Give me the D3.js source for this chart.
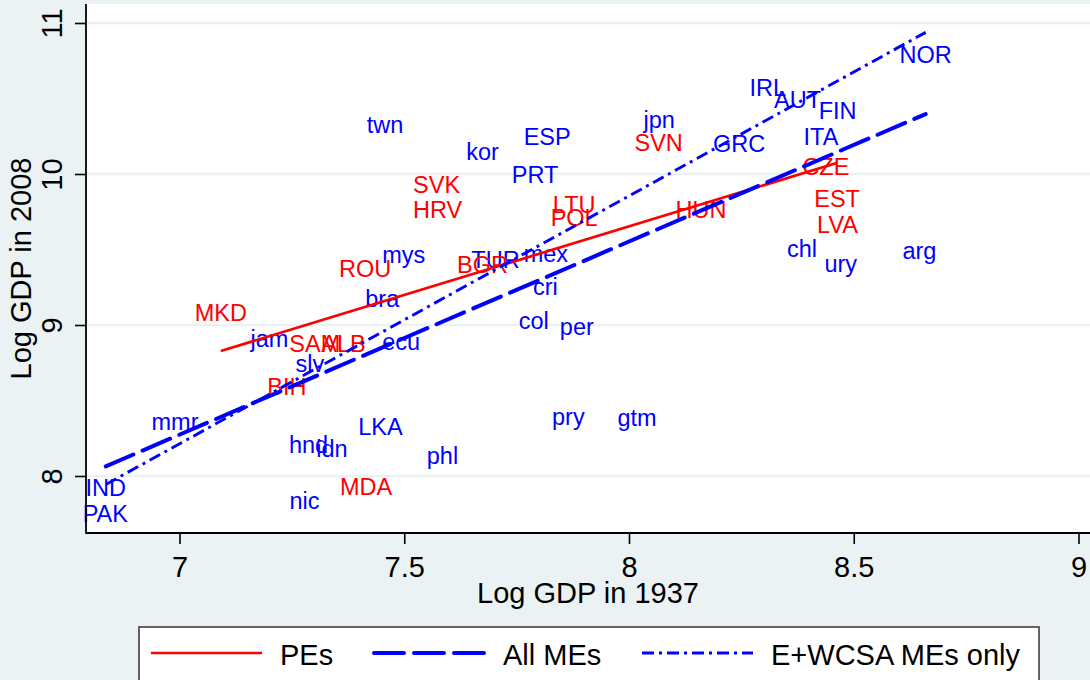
<!DOCTYPE html>
<html><head><meta charset="utf-8">
<script src="https://cdn.jsdelivr.net/npm/d3@7"></script>
<style>
body{margin:0;background:#eaf2f3;}
svg{display:block;font-family:"Liberation Sans",Arial,Helvetica,sans-serif;}
</style>
</head><body>
<svg id="chart" width="1090" height="680"></svg>
<script>
// ---------- data ----------
const peNames = ["MKD","ROU","SAM","ALB","BIH","MDA","BGR","SVK","HRV","LTU","POL","SVN","HUN","CZE","EST","LVA"];
const peX1937 = [7.092,7.413,7.301,7.365,7.239,7.415,7.674,7.572,7.574,7.878,7.878,8.066,8.160,8.438,8.463,8.464];
const peY2008 = [9.083,9.374,8.874,8.874,8.591,7.928,9.397,9.930,9.761,9.794,9.710,10.209,9.761,10.048,9.838,9.662];

const meNames = ["twn","kor","ESP","PRT","jpn","GRC","IRL","AUT","FIN","NOR","ITA","chl","ury","arg","mys","TUR","mex","cri","bra","col","per","jam","ecu","slv","mmr","LKA","hnd","idn","phl","pry","gtm","IND","PAK","nic"];
const meX1937 = [7.457,7.674,7.818,7.791,8.067,8.245,8.309,8.375,8.464,8.660,8.427,8.385,8.471,8.646,7.499,7.703,7.815,7.814,7.451,7.788,7.884,7.200,7.493,7.290,6.990,7.447,7.287,7.339,7.585,7.865,8.018,6.836,6.835,7.278];
const meY2008 = [10.324,10.147,10.246,9.997,10.358,10.202,10.571,10.489,10.419,10.791,10.246,9.503,9.403,9.491,9.463,9.430,9.470,9.253,9.172,9.026,8.988,8.907,8.889,8.745,8.359,8.326,8.205,8.178,8.132,8.392,8.387,7.924,7.748,7.834];

// fitted lines (endpoints)
const peFitX = [7.092, 8.464];
const peFitY = [8.828, 10.075];
const allMeFitX = [6.836, 8.660];
const allMeFitY = [8.064, 10.397];
const ewcsaFitX = [6.836, 8.660];
const ewcsaFitY = [7.944, 10.938];

const xTicks = [7, 7.5, 8, 8.5, 9];
const xTickLabels = ["7","7.5","8","8.5","9"];
const yTicks = [8, 9, 10, 11];
const yTickLabels = ["8","9","10","11"];

const legendLabels = ["PEs","All MEs","E+WCSA MEs only"];

// ---------- layout ----------
const svg = d3.select("#chart");
const P = {left:86, right:1090, top:4, bottom:533};
const x = d3.scaleLinear().domain([7, 9]).range([179.5, 1078.5]);
const y = d3.scaleLinear().domain([8, 11]).range([476, 23]);

const RED = "#ff0000", BLUE = "#0000ff", BG = "#eaf2f3";

svg.append("rect").attr("width",1090).attr("height",680).attr("fill",BG);
svg.append("rect").attr("x",P.left).attr("y",P.top)
  .attr("width",P.right-P.left).attr("height",P.bottom-P.top).attr("fill","#fff");

// grid
svg.append("g").selectAll("line").data(yTicks).join("line")
  .attr("x1",P.left).attr("x2",P.right)
  .attr("y1",d=>y(d)).attr("y2",d=>y(d))
  .attr("stroke",BG).attr("stroke-width",2.5);

// labels
function labels(names, xs, ys, color){
  svg.append("g").selectAll("text").data(names).join("text")
    .attr("x",(d,i)=>x(xs[i])).attr("y",(d,i)=>y(ys[i]))
    .attr("dy","0.35em").attr("text-anchor","middle")
    .attr("font-size",23.5).attr("fill",color).text(d=>d);
}
labels(meNames, meX1937, meY2008, BLUE);
labels(peNames, peX1937, peY2008, RED);

// fit lines
const lineGen = d3.line().x(d=>x(d[0])).y(d=>y(d[1]));
function fit(xs, ys, color, w, dash, cap){
  svg.append("path").datum(xs.map((v,i)=>[v, ys[i]]))
    .attr("d",lineGen).attr("fill","none").attr("stroke",color)
    .attr("stroke-width",w).attr("stroke-dasharray",dash).attr("stroke-linecap",cap);
}
const styles = [
  {c:RED, w:2.7, dash:null, cap:"butt"},
  {c:BLUE, w:4, dash:"30,10", cap:"round"},
  {c:BLUE, w:2.9, dash:"12,5,3,5", cap:"butt"}
];
fit(peFitX, peFitY, styles[0].c, styles[0].w, styles[0].dash, styles[0].cap);
fit(allMeFitX, allMeFitY, styles[1].c, styles[1].w, styles[1].dash, styles[1].cap);
fit(ewcsaFitX, ewcsaFitY, styles[2].c, styles[2].w, styles[2].dash, styles[2].cap);

// axes
const xAxis = d3.axisBottom(x).tickValues(xTicks).tickFormat((d,i)=>xTickLabels[i]).tickSize(11).tickSizeOuter(0);
const gx = svg.append("g").attr("transform",`translate(0,${P.bottom})`).call(xAxis);
gx.select(".domain").remove();
gx.selectAll(".tick line").attr("stroke","#000").attr("stroke-width",1.6);
gx.selectAll(".tick text").attr("y",44).attr("dy",0).attr("font-size",29)
  .attr("font-family","Liberation Sans, Arial, sans-serif").attr("fill","#000");

const yAxis = d3.axisLeft(y).tickValues(yTicks).tickFormat((d,i)=>yTickLabels[i]).tickSize(11).tickSizeOuter(0);
const gy = svg.append("g").attr("transform",`translate(${P.left},0)`).call(yAxis);
gy.select(".domain").remove();
gy.selectAll(".tick line").attr("stroke","#000").attr("stroke-width",1.6);
gy.selectAll(".tick text").attr("transform","rotate(-90)").attr("x",0).attr("y",-24)
  .attr("dy",0).attr("text-anchor","middle").attr("font-size",29)
  .attr("font-family","Liberation Sans, Arial, sans-serif").attr("fill","#000");

svg.append("line").attr("x1",P.left).attr("x2",P.left).attr("y1",P.top).attr("y2",P.bottom+0.8)
  .attr("stroke","#000").attr("stroke-width",1.8);
svg.append("line").attr("x1",P.left).attr("x2",P.right).attr("y1",P.bottom).attr("y2",P.bottom)
  .attr("stroke","#000").attr("stroke-width",1.8);

// axis titles
svg.append("text").attr("x",(P.left+P.right)/2).attr("y",603).attr("text-anchor","middle")
  .attr("font-size",29).text("Log GDP in 1937");
svg.append("text").attr("transform",`translate(31,${(P.top+P.bottom)/2}) rotate(-90)`)
  .attr("text-anchor","middle").attr("font-size",29).text("Log GDP in 2008");

// legend
const lg = svg.append("g");
lg.append("rect").attr("x",139).attr("y",627).attr("width",900).attr("height",70)
  .attr("fill","#fff").attr("stroke","#333").attr("stroke-width",1.5);
const legX = [151, 374, 642];
legendLabels.forEach((lab,i)=>{
  const s = styles[i];
  lg.append("line").attr("x1",legX[i]).attr("x2",legX[i]+111).attr("y1",653).attr("y2",653)
    .attr("stroke",s.c).attr("stroke-width",s.w).attr("stroke-dasharray",s.dash).attr("stroke-linecap",s.cap);
  lg.append("text").attr("x",legX[i]+129).attr("y",665).attr("font-size",29).text(lab);
});
</script>
</body></html>
